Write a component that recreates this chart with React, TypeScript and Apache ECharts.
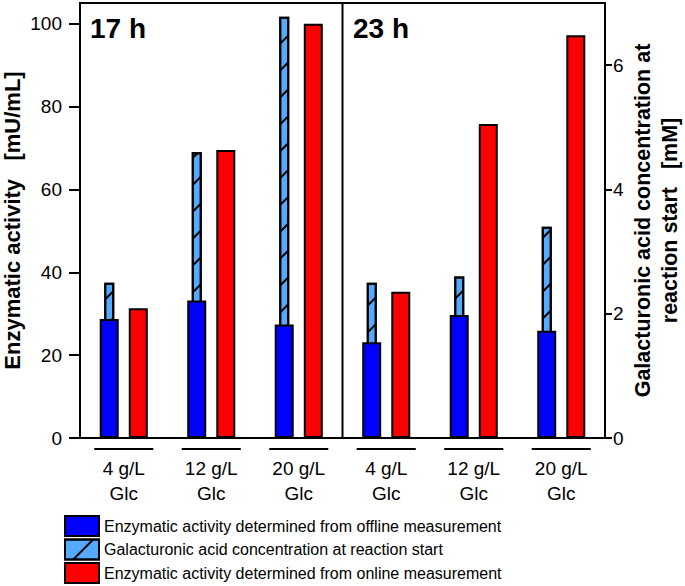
import React, { useEffect, useRef } from "react";
import * as echarts from "echarts";

const timePoints = ["17 h", "23 h"];
const glucose = ["4 g/L", "12 g/L", "20 g/L"];
const categories = timePoints.flatMap((t) => glucose.map((g) => `${t}|${g}`));

// Enzymatic activity [mU/mL]
const offlineActivity = [28.7, 33.2, 27.4, 23.1, 29.7, 25.9];
const onlineActivity = [31.3, 69.5, 100.0, 35.3, 75.8, 97.2];
// Galacturonic acid concentration at reaction start [mM]
const galacturonicAcid = [2.5, 4.6, 6.78, 2.5, 2.6, 3.4];

const leftTicks = [0, 20, 40, 60, 80, 100];
const rightTicks = [0, 2, 4, 6];

const NAME_OFF = "Enzymatic activity determined from offline measurement";
const NAME_GAL = "Galacturonic acid concentration at reaction start";
const NAME_ON = "Enzymatic activity determined from online measurement";

const FONT = "'Liberation Sans', Arial, sans-serif";

export default function App() {
  const ref = useRef<HTMLDivElement>(null);
  useEffect(() => {
    if (!ref.current) return;
    const chart = echarts.init(ref.current, null, { renderer: "svg" });
    const W = 685;
    const gridLeft = 80;
    const gridRight = 80;
    const gridTop = 3;
    const gridBottom = 148;
    const plotW = W - gridLeft - gridRight;
    const dividerX = gridLeft + plotW / 2;
    const border = { borderColor: "#000", borderWidth: 2 };

    chart.setOption({
      animation: false,
      textStyle: { fontFamily: FONT },
      grid: {
        left: gridLeft,
        right: gridRight,
        top: gridTop,
        bottom: gridBottom,
        show: true,
        borderColor: "#000",
        borderWidth: 2,
        containLabel: false,
        outerBoundsMode: "none",
      },
      legend: {
        orient: "vertical",
        left: 64,
        top: 515,
        height: 72,
        padding: 0,
        itemWidth: 34,
        itemHeight: 20,
        itemGap: 1.5,
        icon: "rect",
        selectedMode: false,
        data: [NAME_OFF, NAME_GAL, NAME_ON],
        textStyle: { fontSize: 16, lineHeight: 20, color: "#000", fontFamily: FONT },
      },
      xAxis: [
        {
          type: "category",
          data: categories,
          axisLine: { show: true, lineStyle: { color: "#000", width: 2 } },
          axisTick: { show: false },
          axisLabel: {
            color: "#000",
            fontSize: 19,
            lineHeight: 25,
            margin: 18,
            formatter: (v: string) => `${v.split("|")[1]}\nGlc`,
          },
        },
        {
          type: "category",
          data: categories,
          show: false,
        },
      ],
      yAxis: [
        {
          type: "value",
          min: 0,
          max: 105,
          interval: 20,
          splitLine: { show: false },
          axisLine: { show: true, lineStyle: { color: "#000", width: 2 } },
          axisTick: { show: true, length: 11, lineStyle: { width: 2 }, customValues: leftTicks },
          axisLabel: { color: "#000", fontSize: 19, margin: 18, customValues: leftTicks },
          name: "Enzymatic activity   [mU/mL]",
          nameLocation: "middle",
          nameGap: 57,
          nameMoveOverlap: false,
          nameTextStyle: { fontSize: 22, lineHeight: 22, fontWeight: "bold", color: "#000" },
        },
        {
          type: "value",
          min: 0,
          max: 7,
          interval: 2,
          position: "right",
          splitLine: { show: false },
          axisLine: { show: true, lineStyle: { color: "#000", width: 2 } },
          axisTick: { show: true, length: 7, lineStyle: { width: 2 }, customValues: rightTicks },
          axisLabel: { color: "#000", fontSize: 19, margin: 8, customValues: rightTicks },
          name: "Galacturonic acid concentration at\nreaction start   [mM]",
          nameLocation: "middle",
          nameGap: 24,
          nameMoveOverlap: false,
          nameRotate: 90,
          nameTextStyle: { fontSize: 21.5, fontWeight: "bold", color: "#000", lineHeight: 27 },
        },
      ],
      series: [
        {
          name: NAME_GAL,
          type: "bar",
          xAxisIndex: 1,
          yAxisIndex: 1,
          barWidth: 10,
          barGap: "190%",
          z: 1,
          data: galacturonicAcid,
          itemStyle: {
            color: "#55aaff",
            ...border,
            decal: {
              symbol: "rect",
              symbolSize: 1,
              color: "#000",
              dashArrayX: [1, 0],
              dashArrayY: [1.5, 17],
              rotation: -Math.PI / 4,
            },
          },
        },
        {
          name: "_spacer",
          type: "bar",
          xAxisIndex: 1,
          yAxisIndex: 1,
          barWidth: 10,
          data: categories.map(() => null),
        },
        {
          name: NAME_OFF,
          type: "bar",
          xAxisIndex: 0,
          yAxisIndex: 0,
          barWidth: 19,
          barGap: "53%",
          z: 3,
          data: offlineActivity,
          itemStyle: { color: "#0000ff", ...border },
        },
        {
          name: NAME_ON,
          type: "bar",
          xAxisIndex: 0,
          yAxisIndex: 0,
          barWidth: 19,
          z: 3,
          data: onlineActivity,
          itemStyle: { color: "#ff0000", ...border },
        },
        {
          name: "_underline",
          type: "custom",
          xAxisIndex: 0,
          yAxisIndex: 0,
          clip: false,
          silent: true,
          data: categories.map((_, i) => [i, 0]),
          renderItem: (params: any, api: any) => {
            const p = api.coord([api.value(0), 0]);
            const half = (api.size([1, 0])[0] * 0.675) / 2;
            return {
              type: "line",
              shape: { x1: p[0] - half, y1: p[1] + 11, x2: p[0] + half, y2: p[1] + 11 },
              style: { stroke: "#000", lineWidth: 2 },
            };
          },
        },
      ],
      graphic: [
        {
          type: "line",
          shape: { x1: dividerX, y1: gridTop, x2: dividerX, y2: 586 - gridBottom },
          style: { stroke: "#000", lineWidth: 2 },
        },
        {
          type: "text",
          left: 90,
          top: 14,
          style: { text: timePoints[0], font: `bold 28px ${FONT}`, fill: "#000" },
        },
        {
          type: "text",
          left: 353,
          top: 14,
          style: { text: timePoints[1], font: `bold 28px ${FONT}`, fill: "#000" },
        },
      ],
    });
    return () => chart.dispose();
  }, []);
  return <div ref={ref} style={{ width: 685, height: 586, position: "absolute", left: 0, top: 0 }} />;
}
